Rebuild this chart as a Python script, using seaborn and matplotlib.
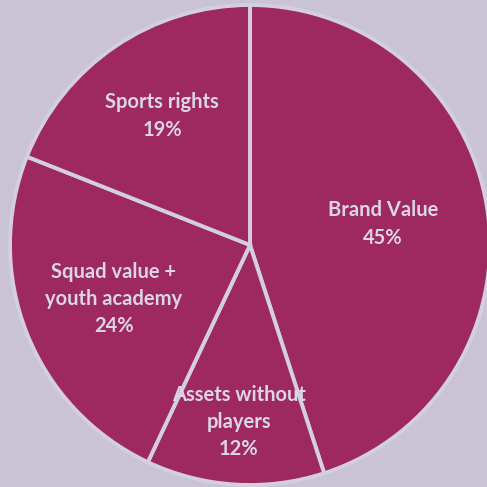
import numpy as np
import matplotlib
matplotlib.use("Agg")
import matplotlib.pyplot as plt
import seaborn as sns

# Club value breakdown
categories = ["Brand Value", "Assets without\nplayers", "Squad value +\nyouth academy", "Sports rights"]
shares = [45, 12, 24, 19]
# how far from the centre each label sits (fraction of the radius)
label_radius = [0.56, 0.74, 0.61, 0.65]

sns.set_theme(style="white")
plt.rcParams["font.family"] = ["Lato", "DejaVu Sans"]

bg = "#c9c3d3"
wedge_color = "#9e2860"
edge_color = "#d3cfdc"
text_color = "#dcd6e4"

fig = plt.figure(figsize=(4.87, 4.87), dpi=100, facecolor=bg)
ax = fig.add_axes([0, 0, 1, 1])
ax.set_facecolor(bg)

wedges, _ = ax.pie(
    shares,
    startangle=90,
    counterclock=False,
    colors=[wedge_color] * len(shares),
    radius=1.0,
    wedgeprops=dict(edgecolor=edge_color, linewidth=2.8),
)

for w, name, share, rf in zip(wedges, categories, shares, label_radius):
    mid = np.deg2rad((w.theta1 + w.theta2) / 2)
    x, y = rf * np.cos(mid), rf * np.sin(mid)
    ax.text(x, y, f"{name}\n{share}%", ha="center", va="center",
            color=text_color, fontsize=14.5, fontweight="bold",
            linespacing=1.45)

r_px = 240.0
ax.set_xlim(-250 / r_px, 237 / r_px)
ax.set_ylim(-242 / r_px, 245 / r_px)
ax.set_aspect("equal")
ax.axis("off")

fig.savefig("out.png", dpi=100, facecolor=bg)
